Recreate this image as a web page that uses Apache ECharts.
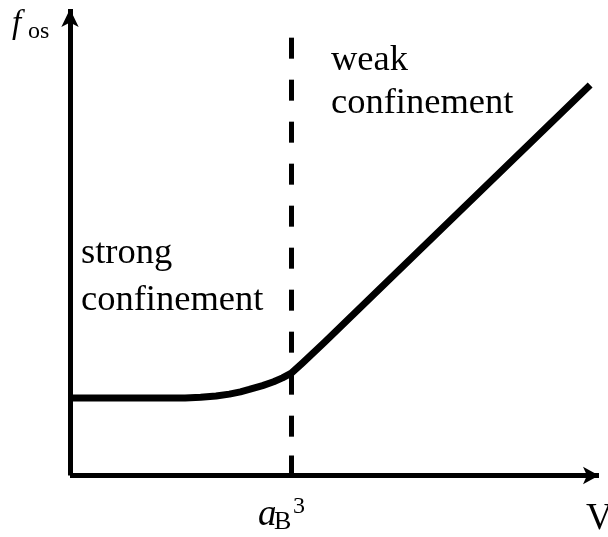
<!DOCTYPE html>
<html>
<head>
<meta charset="utf-8">
<script src="https://cdn.jsdelivr.net/npm/echarts@6/dist/echarts.min.js"></script>
<style>
  html, body { margin: 0; padding: 0; background: #fff; }
  #chart { width: 608px; height: 537px; }
</style>
</head>
<body>
<div id="chart"></div>
<script>
// Oscillator strength f_os against volume V (V in units of a_B^3, f_os in units of its small-V level)
const volume = [0, 0.36, 0.52, 0.59, 0.66, 0.72, 0.77, 0.81, 0.87, 0.92, 0.96, 1.0, 1.05, 1.15, 2.35];
const oscStrength = [1, 1, 1.0, 1.01, 1.025, 1.05, 1.08, 1.11, 1.16, 1.21, 1.26, 1.32, 1.45, 1.72, 5.04];

// Boundary between the two regimes, V = a_B^3
const boundaryV = 1;
const boundaryTop = 5.65;

// Axis extents
const vMax = 2.39;
const fMax = 6.02;

const SERIF = '"Liberation Serif", "Times New Roman", serif';

// Text placed by its alphabetic baseline
function label(text, x, baseline, size, italic) {
  return {
    type: 'text',
    x: x,
    y: baseline - 0.3375 * size,
    silent: true,
    style: {
      text: text,
      fill: '#000',
      font: (italic ? 'italic ' : '') + size + 'px ' + SERIF,
      align: 'left',
      verticalAlign: 'middle'
    }
  };
}

const chart = echarts.init(document.getElementById('chart'), null, { renderer: 'canvas' });

chart.setOption({
  animation: false,
  backgroundColor: '#fff',
  grid: { left: 70, right: 9, top: 9, bottom: 61.5 },
  xAxis: {
    type: 'value',
    min: 0,
    max: vMax,
    axisLine: {
      show: true,
      onZero: false,
      symbol: ['none', 'arrow'],
      symbolSize: [13, 16],
      lineStyle: { color: '#000', width: 5, cap: 'butt' }
    },
    axisTick: {
      show: true,
      inside: true,
      length: 20,
      customValues: [boundaryV],
      lineStyle: { color: '#000', width: 5 }
    },
    axisLabel: { show: false },
    splitLine: { show: false }
  },
  yAxis: {
    type: 'value',
    min: 0,
    max: fMax,
    axisLine: {
      show: true,
      onZero: false,
      symbol: ['none', 'arrow'],
      symbolSize: [13, 18],
      lineStyle: { color: '#000', width: 5, cap: 'butt' }
    },
    axisTick: { show: false },
    axisLabel: { show: false },
    splitLine: { show: false }
  },
  series: [{
    type: 'line',
    data: volume.map((v, i) => [v, oscStrength[i]]),
    showSymbol: false,
    smooth: false,
    lineStyle: { color: '#000', width: 7, cap: 'butt', join: 'round' },
    silent: true,
    z: 3,
    markLine: {
      silent: true,
      symbol: ['none', 'none'],
      label: { show: false },
      lineStyle: { color: '#000', width: 5, type: [21, 21], cap: 'butt' },
      data: [[
        { coord: [boundaryV, boundaryTop] },
        { coord: [boundaryV, 0] }
      ]],
      z: 4
    }
  }],
  graphic: [
    // y axis name: f_os
    label('f', 12, 35, 33, true),
    label('os', 28, 40, 24, false),
    // x axis tick label: a_B^3
    label('a', 258, 528, 37, true),
    label('B', 274, 531, 26, false),
    label('3', 293, 515, 24, false),
    // x axis name
    label('V', 586, 532, 37, false),
    // regime annotations
    label('weak', 331, 73, 36.5, false),
    label('confinement', 331, 116, 36.5, false),
    label('strong', 81, 266, 36.5, false),
    label('confinement', 81, 313, 36.5, false)
  ]
});
</script>
</body>
</html>
